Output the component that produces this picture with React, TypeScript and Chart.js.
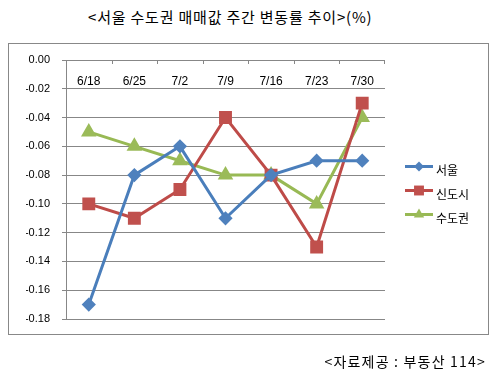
import React, { useEffect, useRef } from "react";
import { Chart, registerables } from "chart.js";

Chart.register(...registerables);

const categories = ["6/18", "6/25", "7/2", "7/9", "7/16", "7/23", "7/30"];
const seoul = [-0.17, -0.08, -0.06, -0.11, -0.08, -0.07, -0.07];
const newTowns = [-0.1, -0.11, -0.09, -0.04, -0.08, -0.13, -0.03];
const capital = [-0.05, -0.06, -0.07, -0.08, -0.08, -0.1, -0.04];
const seriesNames = ["서울", "신도시", "수도권"];
const yMin = -0.18;
const yMax = 0;
const yStep = 0.02;
const titleText = "<서울 수도권 매매값 주간 변동률 추이>(%)";
const sourceText = "<자료제공 : 부동산 114>";

const GRID = "#878787";

const overlayPlugin = {
  id: "overlay",
  afterDraw(chart: any) {
    const ctx = chart.ctx;
    const x = chart.scales.x;
    const area = chart.chartArea;
    ctx.save();
    ctx.fillStyle = "#000";
    ctx.font = "12px 'Liberation Sans', Arial, sans-serif";
    ctx.textAlign = "center";
    ctx.textBaseline = "middle";
    const labels = chart.data.labels as string[];
    labels.forEach((lab: string, i: number) => {
      ctx.fillText(lab, x.getPixelForValue(i), area.top + 22);
    });
    ctx.strokeStyle = GRID;
    ctx.lineWidth = 1;
    const step = x.getPixelForValue(1) - x.getPixelForValue(0);
    for (let i = 0; i <= labels.length; i++) {
      const px =
        i < labels.length
          ? Math.round(x.getPixelForValue(i) - step / 2) + 0.5
          : Math.round(area.right) - 0.5;
      ctx.beginPath();
      ctx.moveTo(px, area.top);
      ctx.lineTo(px, area.top + 4);
      ctx.stroke();
    }
    const lx = 405;
    const ly = [166, 190, 214];
    chart.data.datasets.forEach((ds: any, i: number) => {
      const y = ly[i] + 0.5;
      ctx.strokeStyle = ds.borderColor;
      ctx.lineWidth = 3;
      ctx.beginPath();
      ctx.moveTo(lx, y);
      ctx.lineTo(lx + 28, y);
      ctx.stroke();
      ctx.fillStyle = ds.pointBackgroundColor;
      const r = ds.pointRadius;
      const cx = lx + 14;
      ctx.beginPath();
      if (ds.pointStyle === "rectRot") {
        ctx.moveTo(cx, y - r);
        ctx.lineTo(cx + r, y);
        ctx.lineTo(cx, y + r);
        ctx.lineTo(cx - r, y);
        ctx.closePath();
      } else if (ds.pointStyle === "rect") {
        const s = Math.SQRT1_2 * r;
        ctx.rect(cx - s, y - s, 2 * s, 2 * s);
      } else {
        ctx.moveTo(cx, y - r);
        ctx.lineTo(cx + r * 0.866, y + r / 2);
        ctx.lineTo(cx - r * 0.866, y + r / 2);
        ctx.closePath();
      }
      ctx.fill();
      ctx.fillStyle = "#000";
      ctx.font = "12px 'Noto Sans CJK KR', sans-serif";
      ctx.textAlign = "left";
      ctx.textBaseline = "middle";
      ctx.fillText(ds.label, lx + 31, y + 4);
    });
    ctx.restore();
  },
};

export default function App() {
  const ref = useRef<HTMLCanvasElement | null>(null);
  useEffect(() => {
    if (!ref.current) return;
    const chart = new Chart(ref.current, {
      type: "line",
      data: {
        labels: categories,
        datasets: [
          {
            label: seriesNames[0],
            data: seoul,
            borderColor: "#4A7EBB",
            backgroundColor: "#4F81BD",
            pointBackgroundColor: "#4F81BD",
            pointBorderColor: "#4F81BD",
            pointStyle: "rectRot",
            pointRadius: 5,
            borderWidth: 3,
          },
          {
            label: seriesNames[1],
            data: newTowns,
            borderColor: "#BE4B48",
            backgroundColor: "#C0504D",
            pointBackgroundColor: "#C0504D",
            pointBorderColor: "#C0504D",
            pointStyle: "rect",
            pointRadius: 7,
            borderWidth: 3,
          },
          {
            label: seriesNames[2],
            data: capital,
            borderColor: "#98B954",
            backgroundColor: "#9BBB59",
            pointBackgroundColor: "#9BBB59",
            pointBorderColor: "#9BBB59",
            pointStyle: "triangle",
            pointRadius: 6,
            borderWidth: 3,
          },
        ],
      },
      options: {
        responsive: false,
        animation: false,
        layout: { padding: { left: 26, top: 60, right: 111, bottom: 59 } },
        plugins: { legend: { display: false }, title: { display: false }, tooltip: { enabled: false } },
        scales: {
          x: { display: false, offset: true },
          y: {
            min: yMin,
            max: yMax,
            afterFit: (s: any) => {
              s.width = 40;
            },
            border: { color: GRID, width: 1 },
            grid: { color: GRID, tickLength: 4 },
            ticks: {
              stepSize: yStep,
              padding: 12,
              color: "#000",
              font: { family: "'Liberation Sans', Arial, sans-serif", size: 11 },
              callback: (v: any) => Number(v).toFixed(2),
            },
          },
        },
      },
      plugins: [overlayPlugin],
    });
    return () => chart.destroy();
  }, []);
  return (
    <div style={{ position: "absolute", left: 0, top: 0, width: 496, height: 378, background: "#fff" }}>
      <div
        style={{
          position: "absolute",
          left: 88,
          top: 6,
          whiteSpace: "nowrap",
          fontFamily: "'Noto Sans CJK KR', sans-serif",
          fontSize: 15,
          letterSpacing: 0.8,
          color: "#000",
        }}
      >
        {titleText}
      </div>
      <div
        style={{
          position: "absolute",
          left: 8,
          top: 43,
          width: 479,
          height: 290,
          border: "1px solid #888",
        }}
      />
      <canvas ref={ref} width={496} height={378} style={{ position: "absolute", left: 0, top: 0 }} />
      <div
        style={{
          position: "absolute",
          right: 10,
          top: 351,
          whiteSpace: "nowrap",
          fontFamily: "'Noto Sans CJK KR', sans-serif",
          fontSize: 14,
          letterSpacing: 1.2,
          color: "#000",
        }}
      >
        {sourceText}
      </div>
    </div>
  );
}
